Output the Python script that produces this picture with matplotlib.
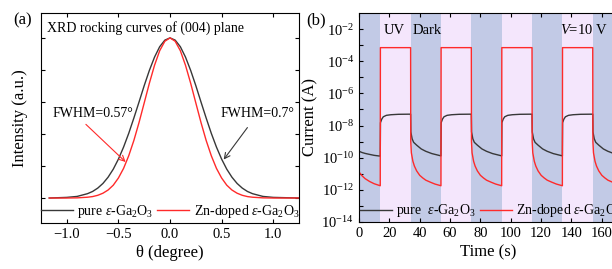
import matplotlib
matplotlib.use("Agg")
import matplotlib.pyplot as plt

plt.rcParams['font.family'] = ['Liberation Serif', 'DejaVu Serif']
plt.rcParams['mathtext.fontset'] = 'custom'
plt.rcParams['mathtext.rm'] = 'Liberation Serif'
plt.rcParams['mathtext.it'] = 'Liberation Serif:italic'
plt.rcParams['mathtext.bf'] = 'Liberation Serif:bold'

# (a) XRD rocking curves, normalised intensity
theta = [-1.17, -1.0, -0.9, -0.8, -0.75, -0.7, -0.65, -0.6, -0.55, -0.5, -0.45, -0.4,
         -0.35, -0.3, -0.25, -0.2, -0.15, -0.1, -0.05, 0.0, 0.05, 0.1, 0.15, 0.2,
         0.25, 0.3, 0.35, 0.4, 0.45, 0.5, 0.55, 0.6, 0.65, 0.7, 0.75, 0.8, 0.9, 1.0, 1.25]
pure_xrd = [0.0, 0.004, 0.010, 0.027, 0.041, 0.062, 0.091, 0.130, 0.180, 0.243, 0.318, 0.404,
            0.500, 0.600, 0.702, 0.797, 0.880, 0.945, 0.986, 1.0, 0.986, 0.945, 0.880, 0.797,
            0.702, 0.600, 0.500, 0.404, 0.318, 0.243, 0.180, 0.130, 0.091, 0.062, 0.041, 0.027,
            0.010, 0.004, 0.0]
zn_xrd = [0.0, 0.0, 0.001, 0.005, 0.009, 0.017, 0.030, 0.050, 0.080, 0.125, 0.185, 0.264,
          0.360, 0.472, 0.594, 0.717, 0.829, 0.920, 0.979, 1.0, 0.979, 0.920, 0.829, 0.717,
          0.594, 0.472, 0.360, 0.264, 0.185, 0.125, 0.080, 0.050, 0.030, 0.017, 0.009, 0.005,
          0.001, 0.0, 0.0]

# (b) I-t switching, UV on/off times (s)
t_end = 170
uv_on = [14, 54, 94, 134]
uv_off = [34, 74, 114, 154]

# pure: first dark part, rise after UV on (offset s), decay after UV off (offset s)
pure_start_t = [0, 2, 4, 7, 10, 14]
pure_start_i = [2.5e-10, 2.1e-10, 1.85e-10, 1.6e-10, 1.4e-10, 1.25e-10]
pure_rise_dt = [0.15, 1, 2, 4, 7, 12, 20]
pure_rise_i = [1.5e-8, 2.5e-8, 3.5e-8, 4.3e-8, 4.7e-8, 5.0e-8, 5.1e-8]
pure_decay_dt = [0.15, 1, 2, 4, 7, 10, 14, 20]
pure_decay_i = [4e-9, 1.5e-9, 9e-10, 6e-10, 3.5e-10, 2.5e-10, 1.8e-10, 1.3e-10]

# Zn-doped
zn_start_t = [0, 2, 4, 7, 10, 14]
zn_start_i = [1.3e-11, 7.5e-12, 5e-12, 3.3e-12, 2.4e-12, 1.8e-12]
zn_rise_dt = [0.1, 20]
zn_rise_i = [7e-4, 7e-4]
zn_decay_dt = [0.1, 0.5, 1.5, 2.5, 4, 6, 8, 10, 13, 16, 20]
zn_decay_i = [1e-9, 2e-10, 6e-11, 3e-11, 1.5e-11, 8e-12, 5.5e-12, 4e-12, 3e-12, 2.3e-12, 1.8e-12]


def build(start_t, start_i, rise_dt, rise_i, decay_dt, decay_i):
    t, y = list(start_t), list(start_i)
    for on, off in zip(uv_on, uv_off):
        t += [on + d for d in rise_dt]
        y += rise_i
        for d, v in zip(decay_dt, decay_i):
            if off + d <= t_end:
                t.append(off + d)
                y.append(v)
    return t, y


fig = plt.figure(figsize=(6.12, 2.69), dpi=100)
ax1 = fig.add_axes([0.067, 0.171, 0.4216, 0.781])
ax2 = fig.add_axes([0.5866, 0.1747, 0.4216, 0.777])

black = '#383838'
red = '#ff2a2a'

# ---- (a)
ax1.plot(theta, pure_xrd, color=black, lw=1.0, label=r'pure $\varepsilon$-Ga$_2$O$_3$')
ax1.plot(theta, zn_xrd, color=red, lw=1.0, label=r'Zn-doped $\varepsilon$-Ga$_2$O$_3$')
ax1.set_xlim(-1.25, 1.25)
ax1.set_ylim(-0.156, 1.156)
ax1.set_xticks([-1.0, -0.5, 0.0, 0.5, 1.0])
ax1.set_yticks([0, 0.2, 0.4, 0.6, 0.8, 1.0])
ax1.set_yticklabels([])
ax1.tick_params(direction='in', top=True, right=True, labelsize=10.5, length=3, width=0.8)
ax1.set_xlabel('θ (degree)', fontsize=12, labelpad=3)
ax1.set_ylabel('Intensity (a.u.)', fontsize=12, labelpad=6)
ax1.text(-1.19, 1.06, 'XRD rocking curves of (004) plane', fontsize=10, va='center')
ax1.text(-0.75, 0.53, 'FWHM=0.57°', fontsize=10, ha='center', va='center')
ax1.text(0.85, 0.53, 'FWHM=0.7°', fontsize=10, ha='center', va='center')
ax1.annotate('', xy=(-0.43, 0.225), xytext=(-0.815, 0.46),
             arrowprops=dict(arrowstyle='->', color=red, lw=0.8, shrinkA=0, shrinkB=0))
ax1.annotate('', xy=(0.52, 0.24), xytext=(0.75, 0.44),
             arrowprops=dict(arrowstyle='->', color=black, lw=0.8, shrinkA=0, shrinkB=0))
ax1.legend(ncol=2, loc='center', bbox_to_anchor=(0.5, 0.057), frameon=False, fontsize=10,
           handlelength=2.3, handletextpad=0.3, columnspacing=0.3, borderaxespad=0, borderpad=0.1)
fig.text(0.021, 0.926, '(a)', fontsize=12, va='center')

# ---- (b)
dark_c = '#c2cae6'
uv_c = '#f4e6fc'
ax2.axvspan(0, uv_on[0], color=dark_c, lw=0)
for k in range(len(uv_on)):
    ax2.axvspan(uv_on[k], uv_off[k], color=uv_c, lw=0)
    nxt = uv_on[k + 1] if k + 1 < len(uv_on) else t_end
    ax2.axvspan(uv_off[k], nxt, color=dark_c, lw=0)

tp, ip = build(pure_start_t, pure_start_i, pure_rise_dt, pure_rise_i, pure_decay_dt, pure_decay_i)
tz, iz = build(zn_start_t, zn_start_i, zn_rise_dt, zn_rise_i, zn_decay_dt, zn_decay_i)
ax2.plot(tp, ip, color=black, lw=1.0, label=r'pure  $\varepsilon$-Ga$_2$O$_3$')
ax2.plot(tz, iz, color=red, lw=1.0, label=r'Zn-doped $\varepsilon$-Ga$_2$O$_3$')
ax2.set_yscale('log')
ax2.set_xlim(0, t_end)
ax2.set_ylim(1e-14, 1e-1)
ax2.set_xticks(range(0, 161, 20))
ax2.set_yticks([1e-14, 1e-12, 1e-10, 1e-8, 1e-6, 1e-4, 1e-2])
ax2.set_yticks([1e-13, 1e-11, 1e-9, 1e-7, 1e-5, 1e-3], minor=True)
ax2.yaxis.set_minor_formatter(plt.NullFormatter())
ax2.tick_params(which='both', direction='in', top=True, right=True, labelsize=10.5,
                length=3, width=0.8)
ax2.set_xlabel('Time (s)', fontsize=12, labelpad=3)
ax2.set_ylabel('Current (A)', fontsize=12, labelpad=2)
ax2.text(16.5, 10 ** -2.06, 'UV', fontsize=10.5, va='center')
ax2.text(35, 10 ** -2.06, 'Dark', fontsize=10.5, va='center')
ax2.text(132.5, 10 ** -2.06, r'$V$=10 V', fontsize=10.5, va='center')
ax2.legend(ncol=2, loc='center left', bbox_to_anchor=(0.0, 0.053), frameon=False, fontsize=10,
           handlelength=2.3, handletextpad=0.3, columnspacing=0.3, borderaxespad=0, borderpad=0.1)
fig.text(0.501, 0.926, '(b)', fontsize=12, va='center')

fig.savefig('out.png', dpi=100)
